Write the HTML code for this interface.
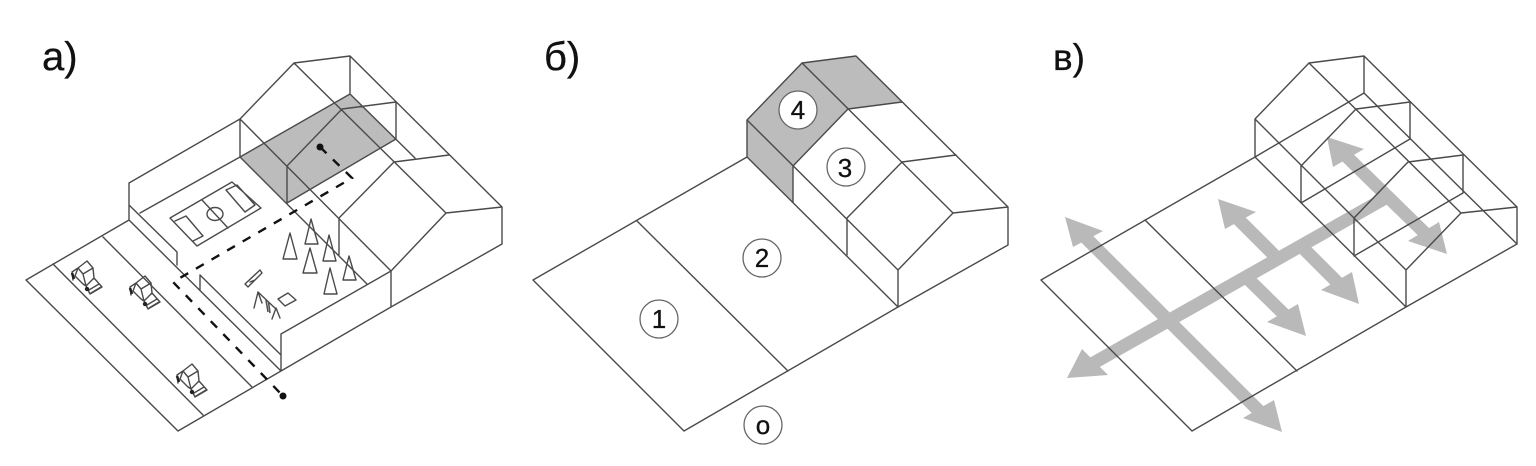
<!DOCTYPE html>
<html><head><meta charset="utf-8">
<style>
html,body{margin:0;padding:0;background:#fff;width:1536px;height:466px;overflow:hidden}
svg{display:block;filter:blur(0.35px)}
text{font-family:"Liberation Sans","DejaVu Sans",sans-serif;fill:#111;stroke:#111;stroke-width:.3}
.l{fill:none;stroke:#4a4a4a;stroke-width:1.4;stroke-linejoin:round;stroke-linecap:round}
.g{fill:#b9b9b9;stroke:none}
.s{stroke:#b9b9b9;stroke-width:13;fill:none}
.c{fill:#fff;stroke:#666;stroke-width:1.3}
.n{font-size:26px;text-anchor:middle}
</style></head>
<body>
<svg width="1536" height="466" viewBox="0 0 1536 466" xmlns="http://www.w3.org/2000/svg">
<defs>
<g id="car">
<path class="l" fill="#fff" d="M8,6 L17,-1 L23,6 L13,12 Z M23,6 L24,16 L16,24 L13,12 M16,24 L24,16 L32,25 L20,32 Z M8,6 L2,10 L3,18 M8,6 L5,14 L13,22 L16,24 M19,28 L29,22 M21,31 L31,25"/>
<path d="M2,11 L4,17" stroke="#222" stroke-width="2.600" fill="none"/>
<circle cx="17" cy="27" r="2.200" fill="#222"/>
</g>
</defs>

<!-- labels -->
<text x="42" y="70" font-size="40">а)</text>
<text x="544" y="70" font-size="40">б)</text>
<text x="1053" y="70" font-size="37">в)</text>

<!-- PANEL A -->
<polygon points="240,157 350,94 396,139 287,203" fill="#bcbcbc"/>
<path class="l" d="M26,280 L129,220 M26,280 L178,431 L281,371 M53,264 L203,415 M103,237 L252,387
M129,183 L240,119 M129,183 V220 M129,205 L177,252 V265 M129,220 L281,371 M140,213 L240,157
M200,275 L281,355 M200,275 V290
M281,334 L391,271 M281,334 V371 M281,371 L391,307 L502,244
M240,119 V157 M240,119 L294,63 L350,56 V94 M294,63 L446,213 L502,207 V244
M350,56 L502,207 M240,119 L391,271 V307
M240,157 L350,94 L415,158 M240,157 L367,284 M287,203 L396,139 V102 L342,109 L287,166 V203
M339,218 V255 M339,218 L394,162 L449,155 M391,271 L446,213"/>
<!-- field -->
<path class="l" d="M170,218 L232,182 L261,208 L197,246 Z M202,200 L228,228 M175,221 L186,216 L203,236 L193,241 M226,190 L237,185 L255,205 L245,212 Z"/>
<ellipse class="l" cx="215" cy="214" rx="8" ry="6.500" fill="#fff"/>
<!-- trees -->
<path class="l" d="M290,233 L283,259 H297 Z M311,219 L305,244 H318 Z M329,235 L323,261 H336 Z M310,248 L303,273 H317 Z M349,256 L343,280 H356 Z M330,268 L324,294 H337 Z"/>
<!-- playground -->
<path class="l" d="M245,284 L248,287 L262,273 L260,270 Z M250,282 L255,280 M278,299 L288,293 L296,300 L285,306 Z M254,308 L258,292 L277,310 M258,292 L262,303 M272,319 L276,308 L280,318"/>
<path d="M266,300 L268,312 M268.500,302 L270,313" stroke="#555" stroke-width="1.600" fill="none"/>
<!-- cars -->
<use href="#car" x="70" y="262"/>
<use href="#car" x="128" y="277"/>
<use href="#car" x="175" y="365"/>
<!-- dashed -->
<path d="M320,147 L352,178 L173,282 L283,396" fill="none" stroke="#111" stroke-width="2.400" stroke-dasharray="9 9"/>
<circle cx="320" cy="147" r="3.500" fill="#111"/>
<circle cx="283" cy="396" r="3.500" fill="#111"/>

<!-- PANEL B -->
<polygon points="747,120 802,63 848,109 793,166" fill="#bcbcbc"/>
<polygon points="747,120 793,166 793,202 747,157" fill="#bcbcbc"/>
<polygon points="802,63 856,56 902,102 848,109" fill="#bcbcbc"/>
<path class="l" d="M533,280 L747,157 M533,280 L684,431 L898,307 L1008,245 V207 M637,221 L788,371
M747,120 V157 M747,120 L802,63 L856,56 L1008,207 M802,63 L953,213 L1008,207
M747,120 L898,270 V307 M747,157 L898,307 M793,166 V202 M793,166 L848,109 L902,102
M847,218 V255 M847,218 L902,162 L956,155 M898,270 L953,213"/>
<circle class="c" cx="798" cy="110" r="19"/>
<circle class="c" cx="846" cy="167" r="19"/>
<circle class="c" cx="762" cy="258" r="19"/>
<circle class="c" cx="659" cy="319" r="19"/>
<circle class="c" cx="763" cy="425" r="19"/>
<text class="n" x="798" y="119">4</text>
<text class="n" x="845" y="177">3</text>
<text class="n" x="762" y="267">2</text>
<text class="n" x="659" y="328">1</text>
<text class="n" x="763" y="434">о</text>

<!-- PANEL C arrows -->
<path class="s" d="M1090,365 L1389,196"/>
<path class="s" d="M1080,232 L1268,420"/>
<path class="s" d="M1233,214 L1276,257"/>
<path class="s" d="M1244,275 L1292,322"/>
<path class="s" d="M1298,243 L1345,290"/>
<path class="s" d="M1342,152 L1432,240"/>
<polygon class="g" points="1067,378 1082,349 1108,375"/>
<polygon class="g" points="1065,217 1103,231 1073,247"/>
<polygon class="g" points="1282,432 1243,418 1274,400"/>
<polygon class="g" points="1218,199 1256,212 1225,229"/>
<polygon class="g" points="1306,336 1267,322 1298,304"/>
<polygon class="g" points="1359,304 1321,290 1352,272"/>
<polygon class="g" points="1327,137 1364,149 1333,167"/>
<polygon class="g" points="1447,254 1408,241 1439,222"/>
<path class="l" d="M1041,280 L1255,157 L1364,93 M1041,280 L1192,431 L1406,307 L1517,244 V207 M1145,220 L1297,371
M1255,119 V157 M1255,119 L1309,63 L1364,56 V93 M1309,63 L1461,213 L1517,207 M1364,56 L1517,207
M1255,119 L1406,270 V307 M1255,157 L1406,307 M1364,93 L1517,244
M1301,166 V203 L1410,139 V102 L1356,109 L1301,166
M1354,218 V256 L1463,193 V155 L1408,162 L1354,218
M1406,270 L1461,213"/>
</svg>
</body></html>
